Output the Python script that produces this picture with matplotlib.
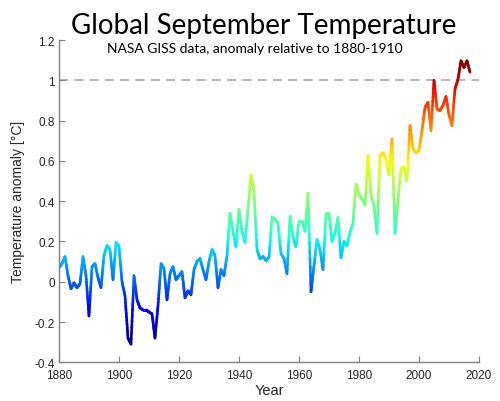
import numpy as np
import matplotlib
matplotlib.use('Agg')
import matplotlib.pyplot as plt
from matplotlib.collections import LineCollection

plt.rcParams['font.family'] = ['Liberation Sans', 'DejaVu Sans']

# September anomaly (deg C), 1880-2017
years = np.arange(1880, 2018)
anomaly = [
    0.07, 0.09, 0.125, 0.03, -0.035, -0.005, -0.03, -0.01, 0.125, 0.03,      # 1880s
    -0.17, 0.075, 0.09, 0.02, -0.03, 0.13, 0.18, 0.16, 0.01, 0.195,          # 1890s
    0.175, 0.0, -0.07, -0.28, -0.31, 0.03, -0.09, -0.13, -0.14, -0.14,       # 1900s
    -0.15, -0.16, -0.28, -0.12, 0.09, 0.065, -0.09, 0.04, 0.075, 0.01,       # 1910s
    0.03, 0.05, -0.08, -0.045, -0.065, 0.06, 0.10, 0.115, 0.06, 0.01,        # 1920s
    0.10, 0.16, 0.13, -0.03, 0.06, 0.03, 0.13, 0.34, 0.25, 0.175,            # 1930s
    0.36, 0.25, 0.195, 0.36, 0.53, 0.45, 0.16, 0.115, 0.125, 0.105,          # 1940s
    0.12, 0.32, 0.31, 0.29, 0.14, 0.115, 0.04, 0.325, 0.22, 0.175,           # 1950s
    0.30, 0.30, 0.25, 0.44, -0.05, 0.08, 0.21, 0.16, 0.06, 0.335,            # 1960s
    0.34, 0.20, 0.24, 0.32, 0.12, 0.20, 0.18, 0.245, 0.29, 0.485,            # 1970s
    0.435, 0.41, 0.38, 0.625, 0.43, 0.38, 0.24, 0.625, 0.64, 0.61,           # 1980s
    0.53, 0.71, 0.24, 0.41, 0.56, 0.57, 0.50, 0.775, 0.66, 0.64,             # 1990s
    0.65, 0.75, 0.865, 0.89, 0.75, 1.0, 0.857, 0.85, 0.875, 0.92,            # 2000s
    0.83, 0.775, 0.957, 1.005, 1.097, 1.063, 1.097, 1.04,                    # 2010s
]
anomaly = np.array(anomaly)
ref_level = 1.0

x_ticks = np.arange(1880, 2021, 20)
y_ticks = np.arange(-0.4, 1.21, 0.2)

fig = plt.figure(figsize=(5.0, 4.02), dpi=100)
ax = fig.add_axes([0.118, 0.0963, 0.84, 0.8017])

# split each segment so the jet colour runs smoothly along the line
n_sub = 12
segs = []
vals = []
for i in range(len(years) - 1):
    t = np.linspace(0, 1, n_sub + 1)
    sx = years[i] + t * (years[i + 1] - years[i])
    sy = anomaly[i] + t * (anomaly[i + 1] - anomaly[i])
    for k in range(n_sub):
        segs.append([(sx[k], sy[k]), (sx[k + 1], sy[k + 1])])
        vals.append(0.5 * (sy[k] + sy[k + 1]))
lc = LineCollection(segs, cmap='jet', norm=plt.Normalize(anomaly.min(), anomaly.max()),
                    linewidths=1.9, capstyle='round', joinstyle='round')
lc.set_array(np.array(vals))
ax.add_collection(lc)

ax.axhline(ref_level, color='#8ea4bd', lw=1.1, ls=(0, (6, 4)), zorder=0)

ax.set_xlim(1880, 2020)
ax.set_ylim(-0.4, 1.2)
ax.set_xticks(x_ticks)
ax.set_yticks(y_ticks)
ax.set_yticklabels([f'{v:g}' if abs(v) > 1e-9 else '0' for v in np.round(y_ticks, 1)])
ax.tick_params(direction='in', length=4, width=0.8, labelsize=8.5, colors='#7f7f7f',
               labelcolor='#262626', pad=3)
ax.tick_params(axis='x', pad=5)
for s in ['top', 'right']:
    ax.spines[s].set_visible(False)
for s in ['left', 'bottom']:
    ax.spines[s].set_color('#7f7f7f')
    ax.spines[s].set_linewidth(1.0)

ax.set_xlabel('Year', fontsize=10.5, color='#262626', labelpad=1)
ax.set_ylabel('Temperature anomaly [°C]', fontsize=10, color='#262626', labelpad=7)

fig.text(0.528, 0.935, 'Global September Temperature', ha='center', va='center',
         fontsize=20, family='Lato', color='black')
fig.text(0.51, 0.878, 'NASA GISS data, anomaly relative to 1880-1910', ha='center',
         va='center', fontsize=10, family='Lato', color='black')

fig.savefig('out.png', dpi=100)
